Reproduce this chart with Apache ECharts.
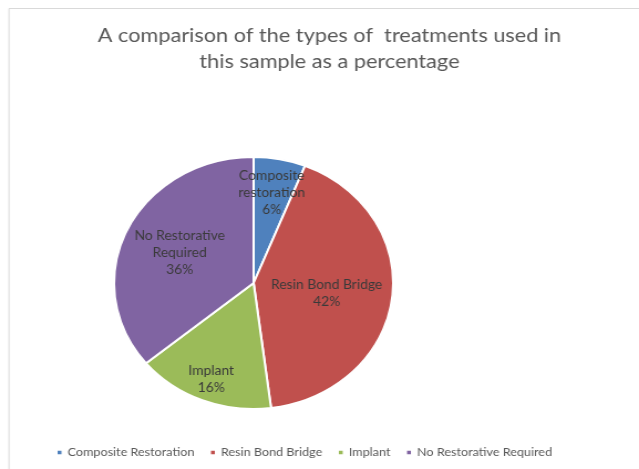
<!DOCTYPE html>
<html>
<head>
<meta charset="utf-8">
<script src="https://cdn.jsdelivr.net/npm/echarts@6/dist/echarts.min.js"></script>
<style>
  html, body { margin: 0; padding: 0; background: #ffffff; overflow: hidden; }
  #wrap { width: 639px; height: 469px; overflow: hidden; }
  /* the chart is drawn on a narrower canvas and widened, giving the pie its oval shape */
  #chart { width: 577px; height: 469px; transform: scaleX(1.10745); transform-origin: 0 0; }
</style>
</head>
<body>
<div id="wrap"><div id="chart"></div></div>
<script>
// Treatment types and their share of the sample (percent)
const categories = ['Composite Restoration', 'Resin Bond Bridge', 'Implant', 'No Restorative Required'];
const sliceNames = ['Composite\nrestoration', 'Resin Bond Bridge', 'Implant', 'No Restorative\nRequired'];
const percentages = [6, 42, 16, 36];

const palette = ['#4F81BD', '#C0504D', '#9BBB59', '#8064A2'];
// nudges applied to the in-slice labels (pixels)
const labelShift = [[4, -25], [0.5, 2.6], [-14, 35], [-7, -2]];

const chart = echarts.init(document.getElementById('chart'), null, { renderer: 'canvas' });

const pieData = categories.map((name, i) => ({ name: name, value: percentages[i] }));

chart.setOption({
  backgroundColor: '#ffffff',
  animation: false,
  color: palette,
  graphic: [{
    type: 'rect',
    silent: true,
    shape: { x: 8.1, y: 8.5, width: 1000, height: 1000 },
    style: { fill: 'none', stroke: '#d9d9d9', lineWidth: 1 }
  }],
  title: {
    text: 'A comparison of the types of  treatments used in\nthis sample as a percentage',
    left: 297.5,
    top: 23,
    padding: 0,
    textAlign: 'center',
    textStyle: {
      fontFamily: 'Lato',
      fontWeight: 'normal',
      fontSize: 19.6,
      lineHeight: 26,
      color: '#595959'
    }
  },
  legend: {
    data: categories,
    left: 50,
    top: 447,
    padding: 0,
    icon: 'rect',
    itemWidth: 5.5,
    itemHeight: 5.5,
    itemGap: 13,
    textStyle: {
      fontFamily: 'Lato',
      fontSize: 11.4,
      color: '#595959',
      padding: [0, 0, 0, -0.5]
    }
  },
  series: [{
    type: 'pie',
    center: [229, 283],
    radius: [0, 126],
    startAngle: 90,
    clockwise: true,
    data: pieData,
    itemStyle: { borderColor: '#ffffff', borderWidth: 2 },
    label: {
      show: true,
      position: 'inside',
      fontFamily: 'Lato',
      fontSize: 12.5,
      lineHeight: 17,
      color: '#3a3a3a',
      formatter: p => sliceNames[p.dataIndex] + '\n' + p.value + '%'
    },
    labelLayout: p => ({ dx: labelShift[p.dataIndex][0], dy: labelShift[p.dataIndex][1] }),
    labelLine: { show: false },
    emphasis: { disabled: true }
  }]
});
</script>
</body>
</html>
